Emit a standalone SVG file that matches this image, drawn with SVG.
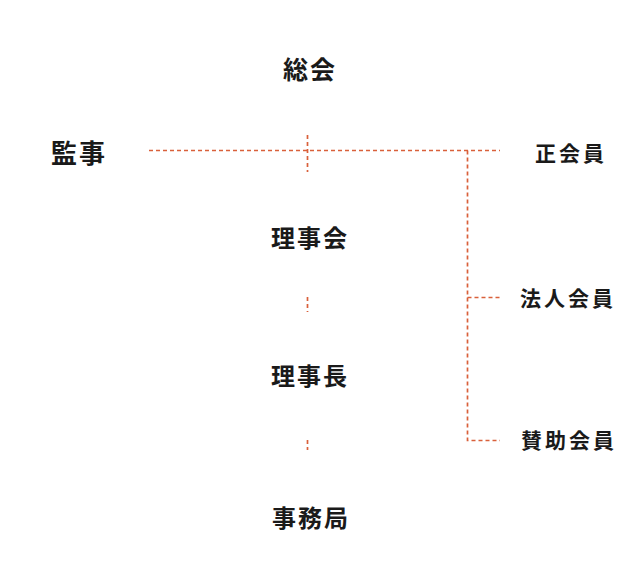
<svg xmlns="http://www.w3.org/2000/svg" width="635" height="585" viewBox="0 0 635 585">
<style>
text{font-family:"Noto Sans CJK JP","Noto Sans CJK SC",sans-serif;font-weight:700;fill:#1a1a1a}
.c{text-anchor:middle;font-size:24px;letter-spacing:2px}
.m{font-size:21px;letter-spacing:3px}
.l{stroke:#d9603b;stroke-width:1.7;stroke-dasharray:4 3;fill:none}
</style>
<rect width="635" height="585" fill="#fff"/>
<g id="connectors">
<path class="l" d="M149,150.5H500"/>
<path class="l" d="M307.5,135V172"/>
<path class="l" d="M467.5,150.5V440.5H500"/>
<path class="l" d="M467.5,297.5H500"/>
<path class="l" d="M307.5,297V312"/>
<path class="l" d="M307.5,440V450"/>
</g>
<g id="n-soukai"><text class="c" x="310" y="79" style="font-size:25px">総会</text></g>
<g id="n-kanji"><text x="51" y="163" style="font-size:26px;letter-spacing:2px">監事</text></g>
<g id="n-seikaiin"><text class="m" x="535" y="161">正会員</text></g>
<g id="n-rijikai"><text class="c" x="310" y="247">理事会</text></g>
<g id="n-rijicho"><text class="c" x="310" y="385">理事長</text></g>
<g id="n-jimukyoku"><text class="c" x="311" y="527">事務局</text></g>
<g id="n-houjin"><text class="m" x="520" y="306">法人会員</text></g>
<g id="n-sanjo"><text class="m" x="521" y="448">賛助会員</text></g>
</svg>
